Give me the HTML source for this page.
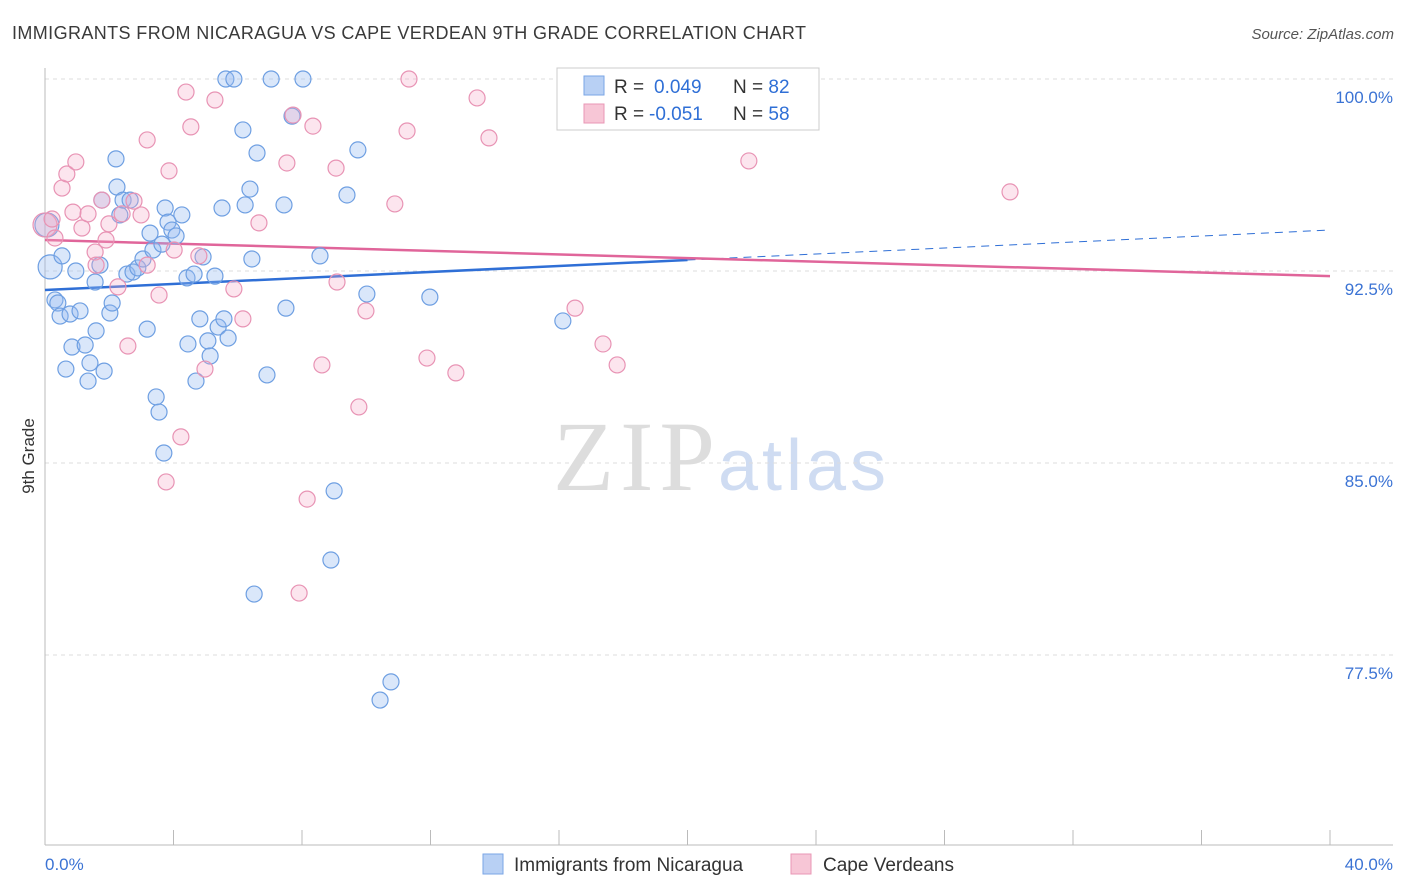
<!DOCTYPE html>
<html><head><meta charset="utf-8"><style>
body{margin:0;background:#fff;font-family:"Liberation Sans",sans-serif;}
svg{display:block}
</style></head><body>
<svg id="chart" width="1406" height="892" xmlns="http://www.w3.org/2000/svg">
<text x="12" y="39" font-size="18" fill="#3a3a3a" textLength="794">IMMIGRANTS FROM NICARAGUA VS CAPE VERDEAN 9TH GRADE CORRELATION CHART</text>
<text x="1394" y="39" font-size="15" fill="#555" font-style="italic" text-anchor="end">Source: ZipAtlas.com</text>
<text x="34" y="456" font-size="17" fill="#333" transform="rotate(-90 34 456)" text-anchor="middle">9th Grade</text>
<text x="553" y="490" font-size="100" fill="#ddd" font-family="Liberation Serif,serif" textLength="162">ZIP</text>
<text x="718" y="490" font-size="72" fill="#cfdcf2" textLength="168">atlas</text>
<g id="grid"></g><g id="axes"></g><g id="trends"></g><g id="pts"></g>
<g>
<rect x="557" y="68" width="262" height="62" fill="#fff" stroke="#ccc"/>
<rect x="584" y="76" width="20" height="19" fill="#b8d0f4" stroke="#7aa6e6"/>
<rect x="584" y="104" width="20" height="19" fill="#f7c6d6" stroke="#e897b5"/>
<text x="614" y="93" font-size="19" fill="#333">R = <tspan x="654" fill="#2f6fd6">0.049</tspan><tspan x="733">N = </tspan><tspan fill="#2f6fd6">82</tspan></text>
<text x="614" y="120" font-size="19" fill="#333">R = <tspan x="649" fill="#2f6fd6">-0.051</tspan><tspan x="733">N = </tspan><tspan fill="#2f6fd6">58</tspan></text>
</g>
<g>
<rect x="483" y="854" width="20" height="20" fill="#b8d0f4" stroke="#7aa6e6"/>
<text x="514" y="871" font-size="19" fill="#333">Immigrants from Nicaragua</text>
<rect x="791" y="854" width="20" height="20" fill="#f7c6d6" stroke="#e897b5"/>
<text x="823" y="871" font-size="19" fill="#333">Cape Verdeans</text>
</g>
</svg>
<script>
const yTicks=[100,92.5,85,77.5];
const yTickLabels=["100.0%","92.5%","85.0%","77.5%"];
const xTickLabels=["0.0%","40.0%"];
const blueX=[0.06,0.16,0.31,0.40,0.53,0.47,0.65,0.78,0.84,0.96,1.09,1.25,1.34,1.40,1.56,1.59,1.71,1.77,1.84,2.02,2.09,2.21,2.24,2.33,2.43,2.55,2.65,2.74,2.89,3.05,3.18,3.27,3.36,3.46,3.55,3.64,3.70,3.74,3.83,3.95,4.08,4.26,4.42,4.45,4.64,4.70,4.82,4.92,5.07,5.14,5.29,5.39,5.51,5.57,5.70,5.63,5.88,6.16,6.23,6.38,6.44,6.51,6.60,6.91,7.04,7.44,7.50,7.69,8.03,8.56,9.00,8.90,9.40,9.74,10.02,10.43,10.77,11.98,16.12,16.96,19.27];
const blueY=[94.30,92.66,91.37,91.25,93.09,90.74,88.67,90.82,89.53,92.50,90.94,89.61,88.20,88.91,92.07,90.16,92.73,95.27,88.59,90.86,91.25,96.88,95.78,94.69,95.27,92.38,95.27,92.46,92.62,92.97,90.23,93.98,93.32,87.58,86.99,93.55,85.39,94.96,94.41,94.10,93.87,94.69,92.23,89.65,92.38,88.20,90.63,93.05,89.77,89.18,92.30,90.31,94.96,90.63,89.88,100,100,98.01,95.08,95.70,92.97,79.88,97.11,88.44,100,95.08,91.05,98.55,100,93.09,83.91,81.21,95.47,97.23,91.60,75.74,76.45,91.48,90.55,98.40,100];
const pinkX=[0,0.22,0.31,0.53,0.68,0.87,0.96,1.15,1.34,1.56,1.59,1.77,1.90,1.99,2.27,2.40,2.58,2.77,2.99,3.18,3.18,3.55,3.77,3.86,4.02,4.23,4.39,4.54,4.79,4.98,5.29,5.88,6.16,6.66,7.53,7.72,7.91,8.16,8.34,8.62,9.06,9.09,9.77,9.99,10.89,11.27,11.33,11.89,12.79,13.45,13.82,16.50,17.37,17.81,21.91,30.04];
const pinkY=[94.30,94.53,93.79,95.74,96.29,94.80,96.76,94.18,94.73,93.24,92.73,95.27,93.71,94.34,91.88,94.73,89.57,95.23,94.69,97.62,92.73,91.56,84.26,96.41,93.32,86.02,99.49,98.13,93.09,88.67,99.18,91.80,90.63,94.38,96.72,98.59,79.92,83.59,98.16,88.83,96.52,92.07,87.19,90.94,95.12,97.97,100,89.10,88.52,99.26,97.70,91.05,89.65,88.83,96.80,95.59];
const blueTrend=[91.76,94.10];
const pinkTrend=[93.71,92.30];
const NS="http://www.w3.org/2000/svg";
const X0=45,X1=1330,Y0=79;
function sx(v){return X0+(v/40)*(X1-X0);}
function sy(v){return Y0+(100-v)*25.6;}
function mk(tag,attrs,parent){const e=document.createElementNS(NS,tag);for(const k in attrs)e.setAttribute(k,attrs[k]);document.getElementById(parent).appendChild(e);return e;}
yTicks.forEach((t,i)=>{
 const l=mk('line',{x1:45,x2:1393,y1:sy(t),y2:sy(t),stroke:'#ddd','stroke-dasharray':'4,4'},'grid');
 
 
 const tx=mk('text',{x:1393,y:sy(t)+24,'font-size':17,fill:'#3b73d4','text-anchor':'end'},'grid');
 tx.textContent=yTickLabels[i];
 
 
});
let a=mk('line',{x1:45,x2:45,y1:68,y2:845,stroke:'#bbb'},'axes');


a=mk('line',{x1:45,x2:1393,y1:845,y2:845,stroke:'#bbb'},'axes');


for(let i=0;i<=10;i++){const x=sx(i*4);const t=mk('line',{x1:x,x2:x,y1:830,y2:845,stroke:'#bbb'},'axes');
 
 }
[[0,'start',45],[40,'end',1393]].forEach((d,i)=>{const t=mk('text',{x:d[2],y:870,'font-size':17,fill:'#3b73d4','text-anchor':d[1]},'axes');t.textContent=xTickLabels[i];
 
 });
function bAt(v){return blueTrend[0]+(blueTrend[1]-blueTrend[0])*v/40;}
let tl=mk('line',{x1:sx(0),y1:sy(bAt(0)),x2:sx(20),y2:sy(bAt(20)),stroke:'#2f6fd6','stroke-width':2.5},'trends');


tl=mk('line',{x1:sx(20),y1:sy(bAt(20)),x2:sx(40),y2:sy(bAt(40)),stroke:'#2f6fd6','stroke-width':1,'stroke-dasharray':'8,6'},'trends');


tl=mk('line',{x1:sx(0),y1:sy(pinkTrend[0]),x2:sx(40),y2:sy(pinkTrend[1]),stroke:'#e0659a','stroke-width':2.5},'trends');


blueX.forEach((x,i)=>{const c=mk('circle',{cx:sx(x),cy:sy(blueY[i]),r:i<2?12:8,fill:'rgba(150,185,240,0.35)',stroke:'#6e9fe2','stroke-width':1.2},'pts');
 
 });
pinkX.forEach((x,i)=>{const c=mk('circle',{cx:sx(x),cy:sy(pinkY[i]),r:i<1?12:8,fill:'rgba(245,170,200,0.3)',stroke:'#e893b4','stroke-width':1.2},'pts');
 
 });
</script>
</body></html>
